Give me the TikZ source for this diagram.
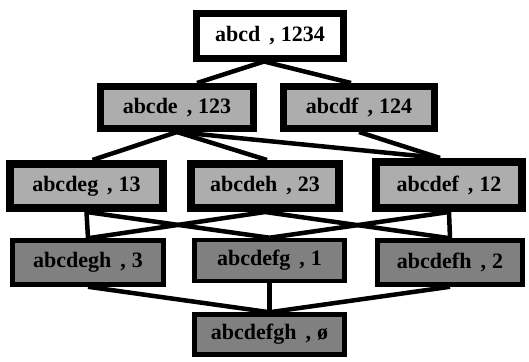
\documentclass[tikz,border=0pt]{standalone}
\usepackage{fontspec}
\setmainfont{Liberation Serif}
\usetikzlibrary{backgrounds,calc}
% label with the wide spacing around the comma
\newcommand{\pairlbl}[2]{#1\hspace{9pt},\hspace{6pt}#2}
\begin{document}
\begin{tikzpicture}[x=1pt,y=-1pt,
  lbl/.style={font=\bfseries\fontsize{22}{25}\selectfont, draw=black, inner sep=0pt, anchor=center},
  topbox/.style={lbl, fill=white, line width=7pt, minimum width=147pt, minimum height=44pt},
  midbox/.style={lbl, fill=black!32, line width=7pt, minimum width=152pt, minimum height=42pt},
  lowbox/.style={lbl, fill=black!50, line width=4.5pt, minimum width=150pt, minimum height=44pt},
  link/.style={line width=4.5pt}]
  \useasboundingbox (0,0) rectangle (529,361);

  % box centres
  \coordinate (p0) at (270,36);
  \coordinate (p1) at (177,107.5);
  \coordinate (p2) at (359,107.5);
  \coordinate (p3) at (86.5,186);
  \coordinate (p4) at (265,186);
  \coordinate (p5) at (449,185);
  \coordinate (p6) at (88,262.5);
  \coordinate (p7) at (269.5,260.5);
  \coordinate (p8) at (450,262.5);
  \coordinate (p9) at (269.5,334.5);

  % boxes
  \node[topbox] (n1234) at (p0) {\pairlbl{abcd}{1234}};
  \node[midbox, minimum width=153pt] (n123) at (p1) {\pairlbl{abcde}{123}};
  \node[midbox, minimum width=151pt] (n124) at (p2) {\pairlbl{abcdf}{124}};
  \node[midbox, line width=8pt, minimum width=153pt, minimum height=44pt] (n13) at (p3) {\pairlbl{abcdeg}{13}};
  \node[midbox, line width=8pt, minimum width=148pt, minimum height=44pt] (n23) at (p4) {\pairlbl{abcdeh}{23}};
  \node[midbox, line width=8pt, minimum width=146pt, minimum height=46pt] (n12) at (p5) {\pairlbl{abcdef}{12}};
  \node[lowbox, minimum width=151pt] (n3) at (p6) {\pairlbl{abcdegh}{3}};
  \node[lowbox, minimum width=150pt, minimum height=41pt] (n1) at (p7) {\pairlbl{abcdefg}{1}};
  \node[lowbox, minimum width=145pt] (n2) at (p8) {\pairlbl{abcdefh}{2}};
  \node[lowbox, minimum width=150pt, minimum height=40pt] (n0) at (p9) {\pairlbl{abcdefgh}{ø}};

  % covering lines, drawn behind the boxes
  \begin{pgfonlayer}{background}
    \coordinate (t0) at ($(n1234.south)+(-6,0)$);
    \draw[link] (t0) -- ($(n123.north)+(20,0)$);
    \draw[link] (t0) -- ($(n124.north)+(-8,0)$);
    \draw[link] (n123.south) -- ($(n13.north)+(6,0)$);
    \draw[link] (n123.south) -- ($(n23.north)+(2,0)$);
    \draw[link] (n123.south) -- ($(n12.north)+(-9,0)$);
    \draw[link] (n124.south) -- ($(n12.north)+(-9,0)$);
    \draw[link] (n13.south) -- (n3.north);
    \draw[link] (n13.south) -- (n1.north);
    \draw[link] (n23.south) -- (n3.north);
    \draw[link] (n23.south) -- (n2.north);
    \draw[link] (n12.south) -- (n1.north);
    \draw[link] (n12.south) -- (n2.north);
    \draw[link] (n3.south) -- (n0.north);
    \draw[link] (n1.south) -- (n0.north);
    \draw[link] (n2.south) -- (n0.north);
  \end{pgfonlayer}
\end{tikzpicture}
\end{document}
